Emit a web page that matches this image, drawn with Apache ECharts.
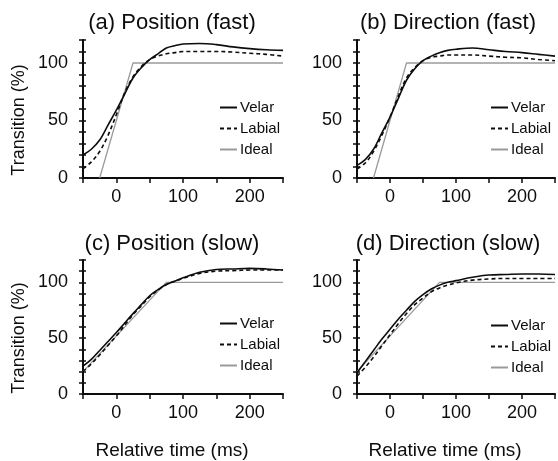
<!DOCTYPE html>
<html>
<head>
<meta charset="utf-8">
<script src="https://cdn.jsdelivr.net/npm/echarts@6/dist/echarts.min.js"></script>
<style>
html,body{margin:0;padding:0;background:#fff;}
#chart{width:558px;height:461px;}
</style>
</head>
<body>
<div id="chart"></div>
<script>
// ---- data ----
const time = [-50, -37.5, -25, -12.5, 0, 12.5, 25, 37.5, 50, 62.5, 75, 87.5, 100, 125, 150, 175, 200, 225, 250];

const velarA  = [20, 25, 33, 46, 59, 73, 87, 96, 103, 108, 113, 115, 116.5, 117, 116, 114, 112.5, 111.5, 111];
const labialA = [8, 14, 23, 37, 55, 74, 88, 97, 103, 106, 108, 109, 110, 110, 110, 109.5, 108.5, 107.5, 106];

const velarB  = [11, 16, 25, 39, 53, 69, 85, 95, 102, 106, 109, 111, 112, 113, 111.5, 110, 109, 107.5, 106];
const labialB = [8, 13, 23, 37, 53, 71, 87, 96, 102, 105, 106, 107, 107, 107, 106, 105, 104.5, 103, 102];

const velarC  = [25, 31, 39, 47, 55, 63.5, 72, 80, 88, 93.5, 98, 101, 104, 109, 111.5, 112, 112.5, 112, 111];
const labialC = [20, 27, 35, 43.5, 52, 61.5, 71, 79, 87, 93, 98, 101, 103.5, 108, 110, 110.5, 111, 111, 111];

const velarD  = [19, 29, 39, 49, 58, 67, 75, 83, 89, 94, 97.5, 100, 101.5, 104.5, 106.5, 107, 107.5, 107.5, 107];
const labialD = [16, 24, 33, 43, 53, 63, 72, 80, 86, 91.5, 95, 97.5, 99.5, 102, 103, 103.5, 103.5, 103.5, 103.5];

const idealFastT = [-25, 25, 250];
const idealFastV = [0, 100, 100];
const idealSlowT = [-50, 75, 250];
const idealSlowV = [20, 100, 100];

const titles = ['(a) Position (fast)', '(b) Direction (fast)', '(c) Position (slow)', '(d) Direction (slow)'];
const seriesNames = ['Velar', 'Labial', 'Ideal'];
const xLabelValues = [0, 100, 200];
const yLabelValues = [0, 50, 100];
const xName = 'Relative time (ms)';
const yName = 'Transition (%)';

// ---- build ----
const panels = [
  {velar: velarA, labial: labialA, idealT: idealFastT, idealV: idealFastV},
  {velar: velarB, labial: labialB, idealT: idealFastT, idealV: idealFastV},
  {velar: velarC, labial: labialC, idealT: idealSlowT, idealV: idealSlowV},
  {velar: velarD, labial: labialD, idealT: idealSlowT, idealV: idealSlowV}
];
const pair = (xs, ys) => xs.map((x, i) => [x, ys[i]]);

const FONT = 'Liberation Sans, Arial, sans-serif';
const INK = '#0d0d0d';
const grids = [
  {left: 83, top: 40, width: 200, height: 138},
  {left: 357, top: 40, width: 200, height: 138},
  {left: 83, top: 260, width: 200, height: 137},
  {left: 357, top: 260, width: 200, height: 137}
];
const titlePos = [
  {left: 172, top: 12}, {left: 448, top: 12},
  {left: 172, top: 233}, {left: 448, top: 233}
];
const legendPos = [
  {left: 219, top: 100}, {left: 490, top: 100},
  {left: 219, top: 316}, {left: 490, top: 318}
];

const xAxes = [], yAxes = [], series = [], legends = [], titleArr = [];
panels.forEach((p, i) => {
  const bottom = i >= 2, left = (i % 2 === 0);
  xAxes.push({
    type: 'value', gridIndex: i, min: -50, max: 250, interval: 50, position: 'bottom',
    axisLine: {show: true, onZero: false, lineStyle: {color: INK, width: 2}},
    axisTick: {show: true, length: 5, lineStyle: {color: INK, width: 1.5}},
    axisLabel: {fontSize: 18, color: INK, fontFamily: FONT, margin: 10, showMinLabel: true, showMaxLabel: true,
      formatter: v => (xLabelValues.indexOf(v) >= 0 ? String(v) : '')},
    splitLine: {show: false},
    name: bottom ? xName : '', nameLocation: 'middle', nameGap: 47,
    nameTextStyle: {fontSize: 19, color: INK, fontFamily: FONT, padding: [0, 22, 0, 0]}
  });
  yAxes.push({
    type: 'value', gridIndex: i, min: 0, max: 120, interval: 10, position: 'left',
    axisLine: {show: true, onZero: false, lineStyle: {color: INK, width: 2}},
    axisTick: {show: true, length: 4, lineStyle: {color: INK, width: 1.5}},
    axisLabel: {fontSize: 18, color: INK, fontFamily: FONT, margin: 15,
      formatter: v => (yLabelValues.indexOf(v) >= 0 ? String(v) : '')},
    splitLine: {show: false},
    name: left ? yName : '', nameLocation: 'middle', nameGap: 55,
    nameTextStyle: {fontSize: 18, color: INK, fontFamily: FONT, padding: [0, 22, 0, 0]}
  });
  yAxes.push({
    type: 'value', gridIndex: i, min: 0, max: 120, interval: 10, position: 'left',
    axisLine: {show: false, onZero: false},
    axisTick: {show: true, inside: true, length: 3, lineStyle: {color: INK, width: 1.5}},
    axisLabel: {show: false}, splitLine: {show: false}
  });
  series.push({
    name: 'Velar', type: 'line', xAxisIndex: i, yAxisIndex: 2 * i,
    data: pair(time, p.velar), smooth: 0.35, symbol: 'none',
    lineStyle: {color: INK, width: 1.6}, itemStyle: {color: INK}, z: 4
  });
  series.push({
    name: 'Labial', type: 'line', xAxisIndex: i, yAxisIndex: 2 * i,
    data: pair(time, p.labial), smooth: 0.35, symbol: 'none',
    lineStyle: {color: INK, width: 1.6, type: [4, 3]}, itemStyle: {color: INK}, z: 3
  });
  series.push({
    name: 'Ideal', type: 'line', xAxisIndex: i, yAxisIndex: 2 * i,
    data: pair(p.idealT, p.idealV), symbol: 'none',
    lineStyle: {color: '#9a9a9a', width: 1.3}, itemStyle: {color: '#9a9a9a'}, z: 2
  });
  legends.push({
    data: seriesNames, orient: 'vertical',
    left: legendPos[i].left, top: legendPos[i].top,
    itemWidth: 17, itemHeight: 14, itemGap: 6, padding: 0,
    selectedMode: false,
    itemStyle: {opacity: 0, color: 'rgba(0,0,0,0)', borderWidth: 0},
    textStyle: {fontSize: 15, color: INK, fontFamily: FONT, padding: [0, 0, 0, -2]}
  });
  titleArr.push({
    text: titles[i], left: titlePos[i].left, top: titlePos[i].top, textAlign: 'center', padding: 0,
    textStyle: {fontSize: 22, fontWeight: 'normal', color: INK, fontFamily: FONT}
  });
});

const chart = echarts.init(document.getElementById('chart'), null, {renderer: 'canvas'});
chart.setOption({
  animation: false,
  backgroundColor: '#fff',
  title: titleArr,
  legend: legends,
  grid: grids,
  xAxis: xAxes,
  yAxis: yAxes,
  series: series
});
</script>
</body>
</html>
